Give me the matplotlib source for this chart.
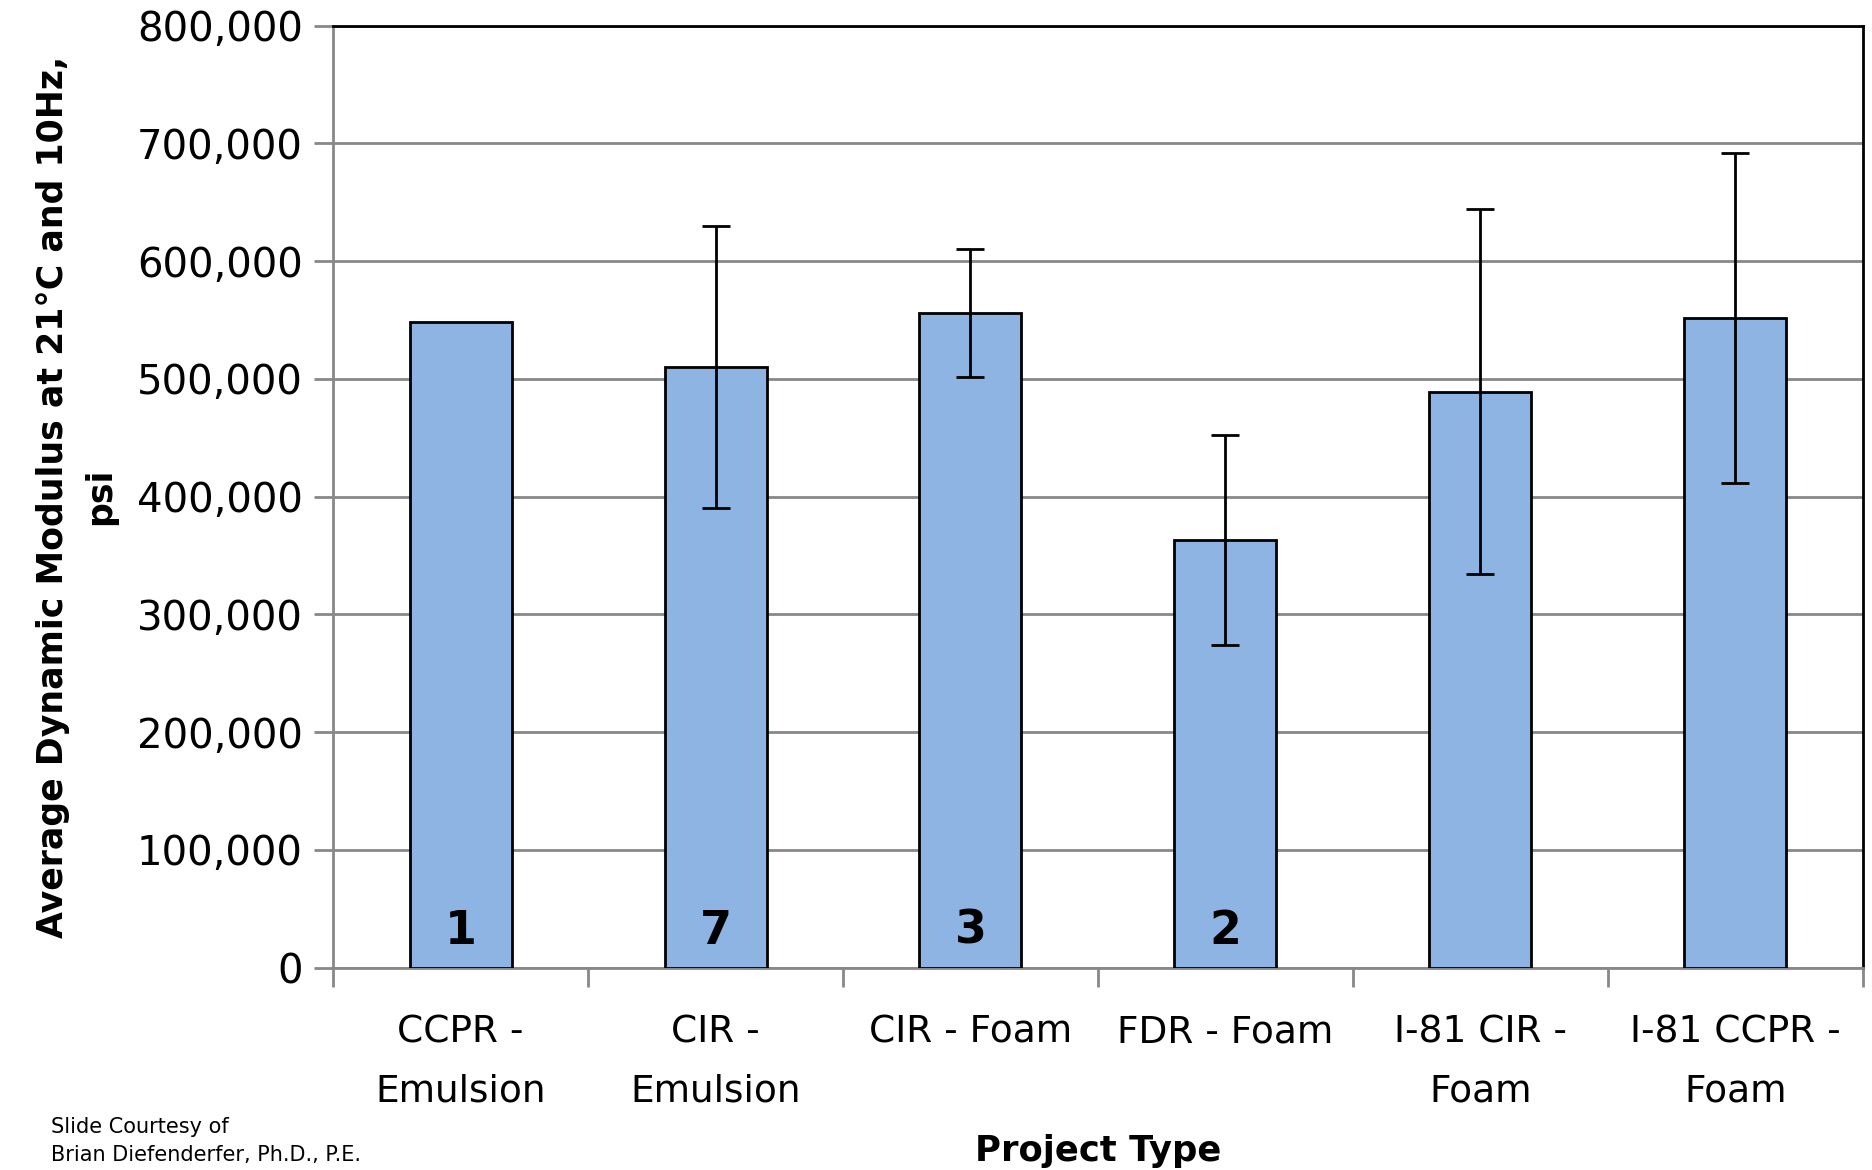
import matplotlib.pyplot as plt
from matplotlib.ticker import FuncFormatter, FixedLocator

categories = ['CCPR -\nEmulsion', 'CIR -\nEmulsion', 'CIR - Foam', 'FDR - Foam', 'I-81 CIR -\nFoam', 'I-81 CCPR -\nFoam']
modulus = [548000, 510000, 556000, 363000, 489000, 552000]
err = [0, 120000, 54000, 89000, 155000, 140000]
counts = ['1', '7', '3', '2', '', '']

fig = plt.figure(figsize=(18.72, 11.7), dpi=100)
ax = fig.add_axes([0.178, 0.173, 0.817, 0.805])

x = list(range(len(categories)))
ax.bar(x, modulus, width=0.40, color='#8EB4E3', edgecolor='black', linewidth=2, zorder=3)
ex = [i for i in x if err[i] > 0]
ax.errorbar(ex, [modulus[i] for i in ex], yerr=[err[i] for i in ex], fmt='none',
            ecolor='black', elinewidth=2, capsize=10, capthick=2, zorder=4)

for i, c in enumerate(counts):
    if c:
        ax.text(i, 31000, c, ha='center', va='center', fontsize=33, fontweight='bold', zorder=5)

ax.set_xlim(-0.5, len(categories) - 0.5)
ax.set_ylim(0, 800000)
ax.set_yticks(range(0, 800001, 100000))
ax.yaxis.set_major_formatter(FuncFormatter(lambda v, p: f'{int(v):,}'))
ax.grid(axis='y', color='#888888', linewidth=2, zorder=0)

ax.set_xticks(x)
ax.set_xticklabels(categories, fontsize=27, linespacing=1.8)
ax.tick_params(axis='x', length=0, pad=34)
ax.xaxis.set_minor_locator(FixedLocator([i - 0.5 for i in range(len(categories) + 1)]))
ax.tick_params(axis='x', which='minor', length=14, width=2, color='#888888')
ax.tick_params(axis='y', labelsize=29, length=14, width=2, color='#888888', pad=8)

for s in ['left', 'bottom']:
    ax.spines[s].set_color('#888888')
    ax.spines[s].set_linewidth(2)
for s in ['top', 'right']:
    ax.spines[s].set_color('black')
    ax.spines[s].set_linewidth(2)

ax.set_ylabel('Average Dynamic Modulus at 21°C and 10Hz,\npsi', fontsize=25, fontweight='bold',
              labelpad=14, linespacing=1.5)
ax.set_xlabel('Project Type', fontsize=25.5, fontweight='bold', labelpad=18)

fig.text(0.027, 0.025, 'Slide Courtesy of\nBrian Diefenderfer, Ph.D., P.E.', fontsize=15, linespacing=1.5, va='center')

fig.savefig('out.png', dpi=100)
